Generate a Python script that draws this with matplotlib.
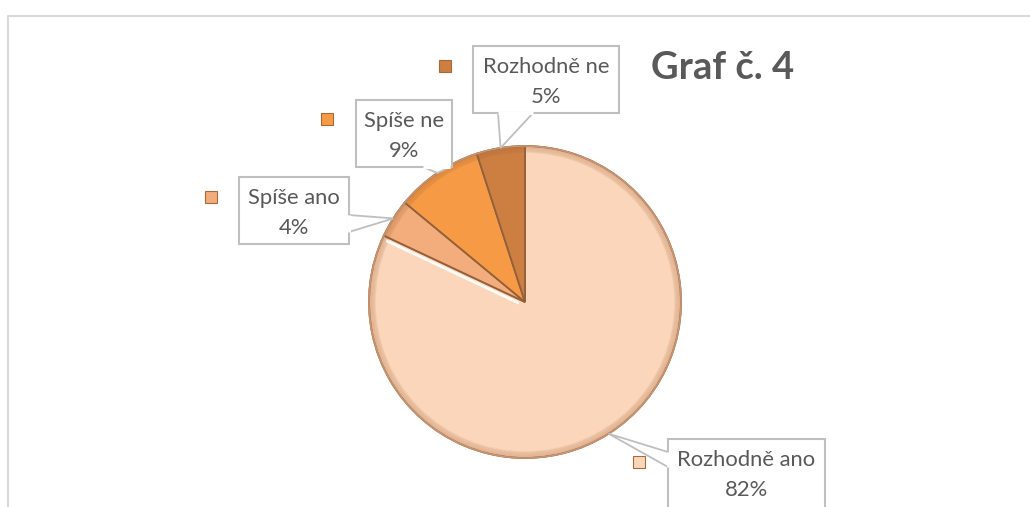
import numpy as np
import matplotlib
matplotlib.use("Agg")
import matplotlib.pyplot as plt
from matplotlib.patches import Rectangle, Polygon, Circle

# data
kategorie = ["Rozhodně ano", "Spíše ano", "Spíše ne", "Rozhodně ne"]
hodnoty = [82, 4, 9, 5]
barvy = ["#FCD6BA", "#F3AD7C", "#F79A45", "#CD7F42"]
titulek = "Graf č. 4"

W, H = 1030, 507
plt.rcParams["font.family"] = ["Lato", "DejaVu Sans"]

fig = plt.figure(figsize=(W / 100, H / 100), dpi=100)
ax = fig.add_axes([0, 0, 1, 1])


def Y(py):
    # pixel y (from top) -> data y
    return H - py


stred = (525, Y(302))
polomer = 156

wedges, _ = ax.pie(hodnoty, colors=barvy, startangle=90, counterclock=False,
                   center=stred, radius=polomer,
                   wedgeprops=dict(edgecolor="#93603A", linewidth=1.3))

# bevel: soft darkening toward the rim
for i in range(7):
    ax.add_patch(Circle(stred, polomer - i, fill=False, edgecolor="#A0653A",
                        lw=1.2, alpha=0.10 + 0.02 * (6 - i), zorder=3))
ax.add_patch(Circle(stred, polomer, fill=False, edgecolor="#C89472", lw=1.2, zorder=3))

# white highlight along the left edge of the big slice
t = np.deg2rad(wedges[0].theta1)
ax.plot([stred[0] + 8 * np.cos(t), stred[0] + (polomer - 4) * np.cos(t)],
        [stred[1] + 8 * np.sin(t) - 4, stred[1] + (polomer - 4) * np.sin(t) - 4],
        color="white", lw=2.0, alpha=0.9, zorder=3)

ax.set_xlim(0, W)
ax.set_ylim(0, H)
ax.axis("off")

# chart frame
ax.plot([8, 8, W], [Y(H), Y(16), Y(16)], color="#D9D9D9", lw=1.5, zorder=1)

# label layout: box (x0, y0, x1, y1) in px, pointer base points, marker position
boxy = [(668, 439, 825, 530), (239, 177, 349, 244), (356, 100, 452, 167), (473, 46, 619, 113)]
zakladny = [((668, 452), (668, 467)), ((349, 215), (349, 232)),
            ((423, 167), (450, 167)), ((498, 113), (533, 113))]
znacky = [(639, 462), (211, 197), (327, 119), (445, 66)]

for w, kat, hod, box, zakl, zn, barva in zip(wedges, kategorie, hodnoty, boxy,
                                             zakladny, znacky, barvy):
    uhel = np.deg2rad((w.theta1 + w.theta2) / 2)
    tip = (stred[0] + polomer * np.cos(uhel), stred[1] + polomer * np.sin(uhel))
    x0, y0, x1, y1 = box
    ax.add_patch(Rectangle((x0, Y(y1)), x1 - x0, y1 - y0, facecolor="white",
                           edgecolor="#BFBFBF", lw=1.5, zorder=5))
    (ax_, ay_), (bx_, by_) = zakl
    ax.add_patch(Polygon([(ax_, Y(ay_)), tip, (bx_, Y(by_))], closed=False,
                         facecolor="white", edgecolor="#BFBFBF", lw=1.3, zorder=5))
    ax.plot([ax_, bx_], [Y(ay_), Y(by_)], color="white", lw=2.2, zorder=6,
            solid_capstyle="butt")
    cx = (x0 + x1) / 2
    ax.text(cx, Y(y0 + 21), kat, ha="center", va="center", fontsize=15.8,
            color="#595959", zorder=7)
    ax.text(cx, Y(y0 + 51), f"{hod}%", ha="center", va="center", fontsize=15.8,
            color="#595959", zorder=7)
    ax.plot(zn[0], Y(zn[1]), marker="s", markersize=9, color=barva,
            markeredgecolor="#A86A3C", markeredgewidth=0.8, zorder=7)

ax.text(723, Y(68), titulek, ha="center", va="center", fontsize=27.5,
        fontweight="bold", color="#595959")

fig.savefig("out.png", dpi=100)
